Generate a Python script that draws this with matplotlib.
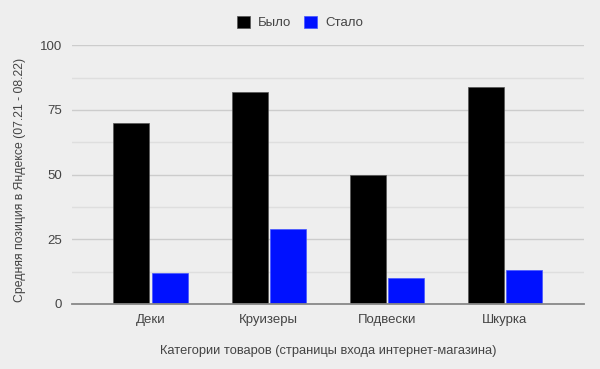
import numpy as np
import matplotlib
matplotlib.use('Agg')
import matplotlib.pyplot as plt

plt.rcParams['font.family'] = ['Liberation Sans', 'DejaVu Sans']

categories = ['Деки', 'Круизеры', 'Подвески', 'Шкурка']
bylo = [70, 82, 50, 84]
stalo = [12, 29, 10, 13]
series_names = ['Было', 'Стало']
yticks = [0, 25, 50, 75, 100]

bg = '#eeeeee'
txt = '#444444'

fig = plt.figure(figsize=(6, 3.69), dpi=100, facecolor=bg)
ax = fig.add_axes([0.12, 0.1762, 0.8533, 0.701])
ax.set_facecolor(bg)

x = np.arange(len(categories))
w = 0.305
ax.bar(x - w / 2 - 0.009, bylo, w, color='#000000', edgecolor='#555555', linewidth=0.5,
       label=series_names[0], zorder=3)
ax.bar(x + w / 2 + 0.009, stalo, w, color='#0011ff', edgecolor='#4455ff', linewidth=0.5,
       label=series_names[1], zorder=3)

ax.set_xlim(-0.665, 3.67)
ax.set_ylim(0, 100)
ax.set_yticks(yticks)
ax.set_yticks(np.arange(12.5, 100, 25), minor=True)
ax.set_xticks(x)
ax.set_xticklabels(categories)
ax.grid(axis='y', which='major', color='#cccccc', linewidth=1, zorder=0)
ax.grid(axis='y', which='minor', color='#dedede', linewidth=1, zorder=0)
ax.tick_params(axis='both', which='both', length=0, colors=txt, labelsize=9.5)
ax.tick_params(axis='x', pad=7)
ax.tick_params(axis='y', pad=7)
for s in ['top', 'right', 'left']:
    ax.spines[s].set_visible(False)
ax.spines['bottom'].set_color('#888888')
ax.spines['bottom'].set_linewidth(1.3)
ax.spines['bottom'].set_zorder(4)

ax.set_ylabel('Средняя позиция в Яндексе (07.21 - 08.22)', color=txt, fontsize=8.8)
ax.yaxis.set_label_coords(-0.09, 0.48)
ax.set_xlabel('Категории товаров (страницы входа интернет-магазина)', color=txt, fontsize=9.3,
              labelpad=14)

leg = fig.legend(loc='upper center', bbox_to_anchor=(0.5, 0.99), ncol=2, frameon=False,
                 fontsize=9.5, handlelength=1.0, handleheight=1.1, handletextpad=0.6,
                 columnspacing=1.0, labelcolor=txt)

fig.savefig('out.png', dpi=100, facecolor=bg)
